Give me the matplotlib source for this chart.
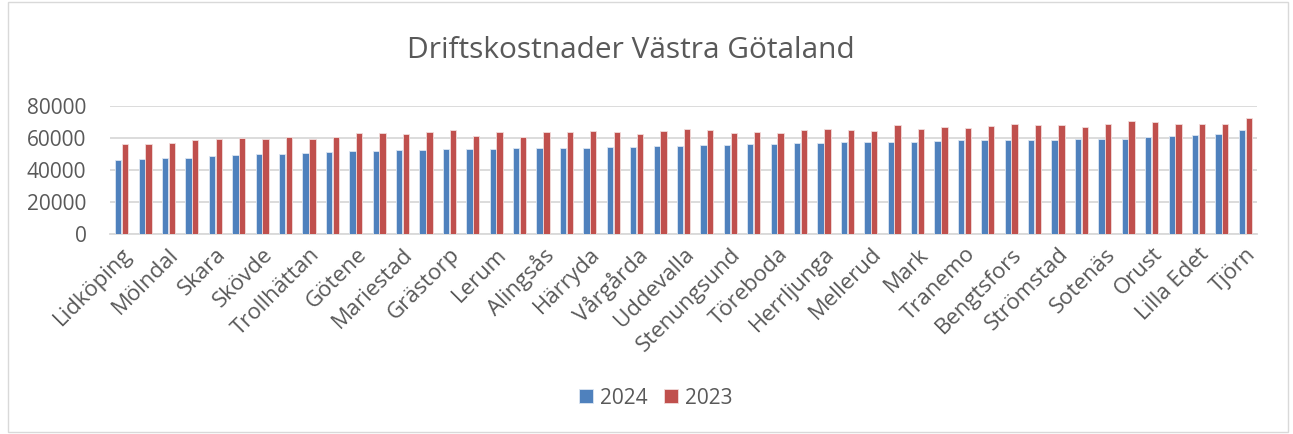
import matplotlib
matplotlib.use("Agg")
import matplotlib.pyplot as plt
import numpy as np
from matplotlib.patches import Rectangle

categories = [
    "Lidköping", "Ale", "Mölndal", "Bollebygd", "Skara", "Borås", "Skövde", "Dals-Ed",
    "Trollhättan", "Essunga", "Götene", "Falköping", "Mariestad", "Färgelanda",
    "Grästorp", "Gullspång", "Lerum", "Göteborg", "Alingsås", "Hjo", "Härryda",
    "Karlsborg", "Vårgårda", "Kungälv", "Uddevalla", "Lysekil", "Stenungsund",
    "Munkedal", "Töreboda", "Partille", "Herrljunga", "Svenljunga", "Mellerud",
    "Tanum", "Mark", "Tibro", "Tranemo", "Tidaholm", "Bengtsfors", "Ulricehamn",
    "Strömstad", "Vara", "Sotenäs", "Vänersborg", "Orust", "Åmål", "Lilla Edet",
    "Öckerö", "Tjörn",
]
values_2024 = [
    46100, 46700, 47200, 47600, 48600, 49200, 49900, 49900, 50500, 51100,
    51700, 51900, 52400, 52400, 52900, 53000, 53200, 53400, 53400, 53400,
    53800, 54200, 54200, 54600, 54600, 55300, 55500, 55900, 56100, 56500,
    56700, 57100, 57100, 57300, 57300, 57800, 58400, 58600, 58600, 58600,
    58600, 59000, 59400, 59400, 60300, 60900, 61700, 62100, 64600,
]
values_2023 = [
    56100, 55900, 56700, 58600, 59400, 59600, 59200, 60700, 59200, 60700,
    62700, 62700, 62300, 63800, 64600, 60900, 63400, 60500, 63400, 63800,
    64200, 63800, 62500, 64200, 65200, 64600, 62700, 63800, 63000, 64800,
    65700, 64800, 64400, 67900, 65200, 66900, 65900, 67300, 68800, 68200,
    68200, 66700, 68400, 70200, 69800, 68600, 68600, 68600, 72100,
]
series_labels = ["2024", "2023"]
yticks = [0, 20000, 40000, 60000, 80000]

TEXT = "#595959"
GRID = "#d9d9d9"
BLUE = "#4f81bd"
RED = "#c0504d"
FONT = "Open Sans"

fig = plt.figure(figsize=(12.93, 4.34), dpi=100)
fig.patch.set_facecolor("white")
fig.add_artist(Rectangle((8 / 1293, 2 / 434), 1280 / 1293, 430 / 434,
                         transform=fig.transFigure, fill=False,
                         edgecolor=GRID, linewidth=1.0))

ax = fig.add_axes([110 / 1293, 1 - 234 / 434, (1257 - 110) / 1293, (234 - 105.7) / 434])
x = np.arange(len(categories))
w = 0.27
ax.bar(x - 0.145, values_2024, width=w, color=BLUE, edgecolor="#dce6f2",
       linewidth=0.6, label=series_labels[0], zorder=3)
ax.bar(x + 0.145, values_2023, width=w, color=RED, edgecolor="#f2dcdb",
       linewidth=0.6, label=series_labels[1], zorder=3)

ax.set_xlim(-0.5, len(categories) - 0.5)
ax.set_ylim(0, 80000)
ax.set_yticks(yticks)
ax.set_yticklabels([str(v) for v in yticks], fontfamily=FONT, fontsize=15, color=TEXT)
ax.yaxis.grid(True, color=GRID, linewidth=1.3, zorder=0)
ax.set_axisbelow(True)
for s in ["top", "right", "left"]:
    ax.spines[s].set_visible(False)
ax.spines["bottom"].set_color(GRID)
ax.spines["bottom"].set_linewidth(1.3)
ax.tick_params(axis="y", length=0, pad=17)
ax.tick_params(axis="x", length=0, pad=7)

ax.set_xticks(x[::2])
ax.set_xticklabels(categories[::2], rotation=45, ha="right", rotation_mode="anchor",
                   fontfamily=FONT, fontsize=16, color=TEXT)

fig.text(0.5 * (407 + 855) / 1293, 1 - 50 / 434, "Driftskostnader Västra Götaland",
         ha="center", va="center", fontfamily=FONT, fontsize=21.5, color=TEXT)

leg = fig.legend(loc="center", bbox_to_anchor=(656 / 1293, 1 - 398 / 434), ncol=2,
                 frameon=False, prop={"family": FONT, "size": 15},
                 handlelength=0.65, handleheight=0.65, handletextpad=0.35, columnspacing=0.8)
for t in leg.get_texts():
    t.set_color(TEXT)

fig.savefig("out.png", dpi=100)
